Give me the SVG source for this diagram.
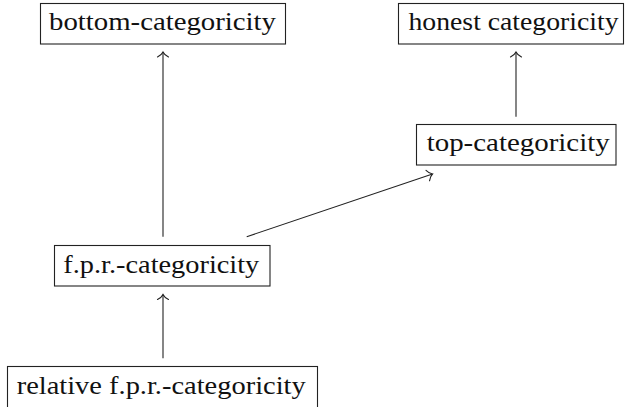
<svg xmlns="http://www.w3.org/2000/svg" width="626" height="407" viewBox="0 0 626 407">
<style>
.box{fill:#fff;stroke:#222;stroke-width:1.1}
.lbl{font-family:"Times New Roman","Liberation Serif","DejaVu Serif",serif;font-size:26px;fill:#111}
.edge{fill:none;stroke:#222;stroke-width:1.1}
</style>
<defs>
<marker id="arr" markerUnits="userSpaceOnUse" markerWidth="14" markerHeight="14" refX="0" refY="0" viewBox="-7 -7 14 14" orient="auto" overflow="visible">
<path d="M -5,-5.5 C -3.2,-2 -1.3,-0.6 0,0 C -1.3,0.6 -3.2,2 -5,5.5" fill="none" stroke="#222" stroke-width="1.1" stroke-linecap="round"/>
</marker>
</defs>
<rect width="626" height="407" fill="#fff"/>
<g id="edges">
<line class="edge" x1="163" y1="236.7" x2="163" y2="52" marker-end="url(#arr)"/>
<line class="edge" x1="516" y1="116.7" x2="516" y2="52" marker-end="url(#arr)"/>
<line class="edge" x1="246.7" y1="236.7" x2="432.5" y2="174" marker-end="url(#arr)"/>
<line class="edge" x1="163" y1="358.3" x2="163" y2="294.5" marker-end="url(#arr)"/>
</g>
<g id="bottom">
<rect class="box" x="40.5" y="3.5" width="245" height="40.5"/>
<text class="lbl" x="49" y="29.5" textLength="227" lengthAdjust="spacingAndGlyphs">bottom-categoricity</text>
</g>
<g id="honest">
<rect class="box" x="398.5" y="3.5" width="225" height="40.5"/>
<text class="lbl" x="408.5" y="29.5" textLength="210" lengthAdjust="spacingAndGlyphs">honest categoricity</text>
</g>
<g id="top">
<rect class="box" x="416.5" y="124.5" width="199.5" height="40.5"/>
<text class="lbl" x="426.7" y="150.5" textLength="183" lengthAdjust="spacingAndGlyphs">top-categoricity</text>
</g>
<g id="fpr">
<rect class="box" x="54.5" y="245.5" width="215.5" height="40.5"/>
<text class="lbl" x="63.3" y="273" textLength="196" lengthAdjust="spacingAndGlyphs">f.p.r.-categoricity</text>
</g>
<g id="relative">
<rect class="box" x="7.5" y="366.5" width="310" height="41.5"/>
<text class="lbl" x="16.7" y="394" textLength="289" lengthAdjust="spacingAndGlyphs">relative f.p.r.-categoricity</text>
</g>
</svg>
